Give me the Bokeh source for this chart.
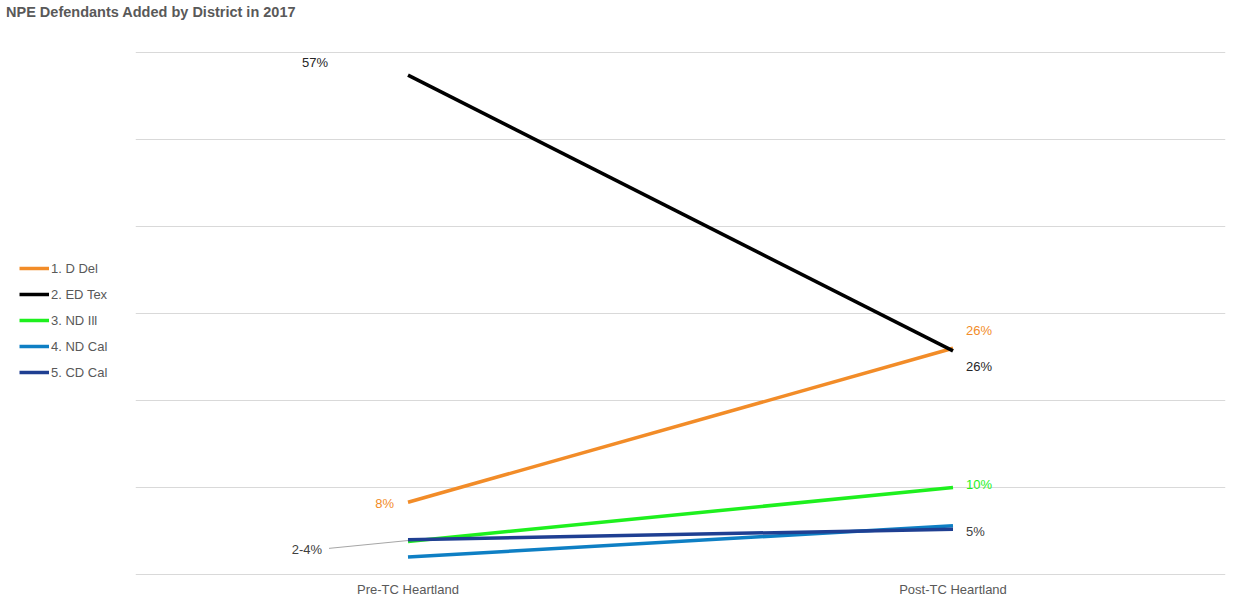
from bokeh.plotting import figure
from bokeh.models import (Range1d, FixedTicker, Legend, LegendItem, ColumnDataSource, Div)
from bokeh.layouts import column, row
from bokeh.embed import file_html
from bokeh.resources import INLINE
from bokeh.core.properties import value

# ---- data ----
categories = ["Pre-TC Heartland", "Post-TC Heartland"]
series_names = ["1. D Del", "2. ED Tex", "3. ND Ill", "4. ND Cal", "5. CD Cal"]
d_del = [8.3, 26.0]
ed_tex = [57.4, 25.7]
nd_ill = [3.8, 10.0]
nd_cal = [2.0, 5.6]
cd_cal = [4.0, 5.2]
series_values = [d_del, ed_tex, nd_ill, nd_cal, cd_cal]
series_colors = ["#F28C28", "#000000", "#1EF01E", "#0E7FC4", "#1F3F92"]

label_texts = ["57%", "8%", "26%", "26%", "10%", "5%", "2-4%"]
label_series = [1, 0, 0, 1, 2, 4, 4]      # which series each label annotates
label_cat = [0, 0, 1, 1, 1, 1, 0]         # which category
label_colors = ["#262626", "#F28C28", "#F28C28", "#262626", "#1EF01E", "#404040", "#404040"]
label_dx = [-93, -14, 13, 13, 13, 13, -86]
label_dy = [-13, 1, -18, 16, -3, 2, 10]
label_align = ["center", "right", "left", "left", "left", "left", "right"]

FONT = "Liberation Sans"
FIG_H = 579
LEG_W = 135

p = figure(width=1236 - LEG_W, height=FIG_H, output_backend="svg", toolbar_location=None,
           x_range=Range1d(-0.5, 1.5), y_range=Range1d(-0.12, 60.12),
           min_border_left=0, min_border_right=11, min_border_top=27, min_border_bottom=28)
p.outline_line_color = None
p.background_fill_color = "white"
p.border_fill_color = "white"
p.xgrid.visible = False
p.ygrid.ticker = FixedTicker(ticks=[0, 10, 20, 30, 40, 50, 60])
p.ygrid.grid_line_color = "#D9D9D9"
p.ygrid.grid_line_width = 1
p.yaxis.visible = False

p.xaxis.ticker = FixedTicker(ticks=list(range(len(categories))))
p.xaxis.major_label_overrides = {i: c for i, c in enumerate(categories)}
p.xaxis.axis_line_color = None
p.xaxis.major_tick_line_color = None
p.xaxis.minor_tick_line_color = None
p.xaxis.major_label_text_font = FONT
p.xaxis.major_label_text_font_size = "13px"
p.xaxis.major_label_text_color = "#595959"
p.xaxis.major_label_standoff = 0

xs = list(range(len(categories)))
for name, vals, col in zip(series_names, series_values, series_colors):
    p.line(xs, vals, line_color=col, line_width=3.5)

# leader line for the "2-4%" label
px_per_unit = 1090 / 2.0
p.segment(x0=[0 - 79 / px_per_unit], y0=[3.0], x1=[0], y1=[cd_cal[0] - 0.1],
          line_color="#A6A6A6", line_width=1)

src = ColumnDataSource(dict(
    x=label_cat,
    y=[series_values[s][c] for s, c in zip(label_series, label_cat)],
    text=label_texts, color=label_colors, dx=label_dx, dy=label_dy, align=label_align))
p.text(x="x", y="y", text="text", source=src, text_color="color", x_offset="dx", y_offset="dy",
       text_align="align", text_baseline="middle", text_font=value(FONT), text_font_size="13px")

# ---- legend panel (separate narrow figure on the left) ----
lg = figure(width=LEG_W, height=FIG_H, output_backend="svg", toolbar_location=None,
            x_range=Range1d(0, 1), y_range=Range1d(0, 1),
            min_border_left=0, min_border_right=0, min_border_top=0, min_border_bottom=0)
lg.axis.visible = False
lg.grid.visible = False
lg.outline_line_color = None
lg.background_fill_color = "white"
lg.border_fill_color = "white"
items = []
for name, vals, col in zip(series_names, series_values, series_colors):
    # same series, drawn outside this panel's visible range: only its legend swatch shows
    r = lg.line(x=[10, 11], y=vals, line_color=col, line_width=3.5)
    items.append(LegendItem(label=name, renderers=[r]))

legend = Legend(items=items, location=(19, 193))
legend.label_text_font = FONT
legend.label_text_font_size = "13px"
legend.label_text_color = "#595959"
legend.glyph_width = 30
legend.glyph_height = 20
legend.label_height = 20
legend.label_standoff = 2
legend.spacing = 6
legend.padding = 0
legend.margin = 0
legend.border_line_alpha = 0
legend.background_fill_alpha = 0
lg.add_layout(legend)

title = Div(text="NPE Defendants Added by District in 2017", width=1236, height=24,
            margin=(0, 0, 0, 0),
            styles={"font-family": FONT, "font-weight": "bold", "font-size": "14.5px",
                    "color": "#595959", "line-height": "1", "position": "relative",
                    "top": "5px", "left": "6px"})

layout = column(title, row(lg, p, spacing=0), spacing=0)
open("out.html", "w").write(file_html(layout, INLINE))
